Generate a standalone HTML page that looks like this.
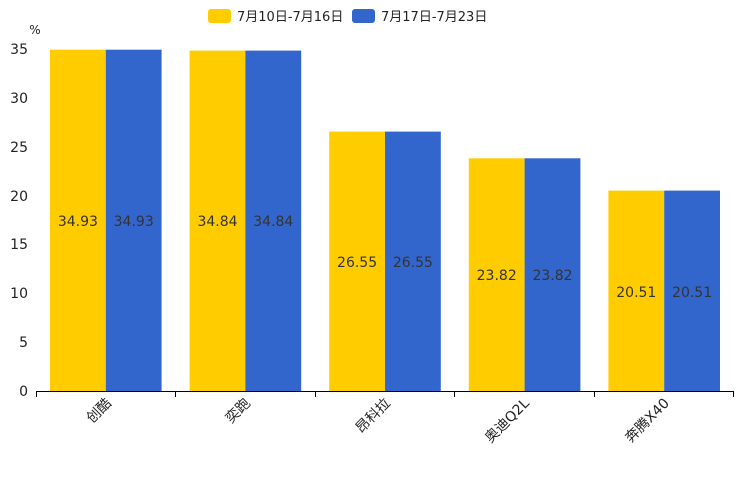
<!DOCTYPE html>
<html><head><meta charset="utf-8"><style>
html,body{margin:0;padding:0;background:#fff;}
svg{display:block;font-family:"DejaVu Sans","Noto Sans CJK SC",sans-serif;}
</style></head><body>
<svg width="744" height="496" viewBox="0 0 744 496" xmlns="http://www.w3.org/2000/svg">
<rect x="0" y="0" width="744" height="496" fill="#fff"/>
<rect x="208" y="9" width="23" height="14" rx="3" fill="#FFCC00"/>
<text x="237" y="21" font-size="13" fill="#222">7月10日-7月16日</text>
<rect x="352" y="9" width="23" height="14" rx="3" fill="#3366CC"/>
<text x="381" y="21" font-size="13" fill="#222">7月17日-7月23日</text>
<text x="35" y="34" font-size="12" fill="#222" text-anchor="middle">%</text>
<g font-size="14" fill="#222" text-anchor="end">
<text x="28" y="396">0</text>
<text x="28" y="347">5</text>
<text x="28" y="298">10</text>
<text x="28" y="249">15</text>
<text x="28" y="201">20</text>
<text x="28" y="152">25</text>
<text x="28" y="103">30</text>
<text x="28" y="54">35</text>
</g>
<g>
<rect x="50" y="49.7" width="55.8" height="341.3" fill="#FFCC00"/>
<rect x="105.8" y="49.7" width="55.8" height="341.3" fill="#3366CC"/>
<rect x="189.6" y="50.6" width="55.8" height="340.4" fill="#FFCC00"/>
<rect x="245.4" y="50.6" width="55.8" height="340.4" fill="#3366CC"/>
<rect x="329.2" y="131.6" width="55.8" height="259.4" fill="#FFCC00"/>
<rect x="385" y="131.6" width="55.8" height="259.4" fill="#3366CC"/>
<rect x="468.8" y="158.3" width="55.8" height="232.7" fill="#FFCC00"/>
<rect x="524.6" y="158.3" width="55.8" height="232.7" fill="#3366CC"/>
<rect x="608.4" y="190.6" width="55.8" height="200.4" fill="#FFCC00"/>
<rect x="664.2" y="190.6" width="55.8" height="200.4" fill="#3366CC"/>
</g>
<g font-size="14" fill="#333" text-anchor="middle">
<text x="77.9" y="226">34.93</text><text x="133.7" y="226">34.93</text>
<text x="217.5" y="226">34.84</text><text x="273.3" y="226">34.84</text>
<text x="357.1" y="267">26.55</text><text x="412.9" y="267">26.55</text>
<text x="496.7" y="280">23.82</text><text x="552.5" y="280">23.82</text>
<text x="636.3" y="297">20.51</text><text x="692.1" y="297">20.51</text>
</g>
<line x1="36" y1="391.5" x2="734" y2="391.5" stroke="#000" stroke-width="1"/>
<g stroke="#000" stroke-width="1">
<line x1="36.5" y1="391" x2="36.5" y2="397"/>
<line x1="175.5" y1="391" x2="175.5" y2="397"/>
<line x1="315.5" y1="391" x2="315.5" y2="397"/>
<line x1="454.5" y1="391" x2="454.5" y2="397"/>
<line x1="594.5" y1="391" x2="594.5" y2="397"/>
<line x1="733.5" y1="391" x2="733.5" y2="397"/>
</g>
<g font-size="14" fill="#222" text-anchor="end">
<text transform="translate(112,404) rotate(-45)">创酷</text>
<text transform="translate(251,404) rotate(-45)">奕跑</text>
<text transform="translate(391,404) rotate(-45)">昂科拉</text>
<text transform="translate(530,404) rotate(-45)">奥迪Q2L</text>
<text transform="translate(670,404) rotate(-45)">奔腾X40</text>
</g>
</svg>
</body></html>
